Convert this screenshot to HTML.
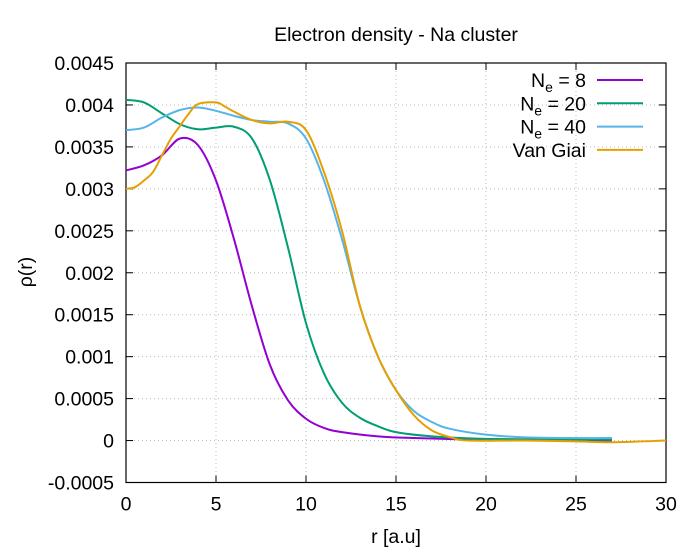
<!DOCTYPE html>
<html><head><meta charset="utf-8"><style>
body{margin:0;background:#fff;font-family:"Liberation Sans",sans-serif}
svg text{font-family:"Liberation Sans",sans-serif;font-size:19.5px;fill:#000}
</style></head><body>
<svg id="c" width="700" height="550"></svg>
<script>
const xTicks=[0,5,10,15,20,25,30];
const yTicks=[-0.0005,0,0.0005,0.001,0.0015,0.002,0.0025,0.003,0.0035,0.004,0.0045];
const yTickLabels=["-0.0005","0","0.0005","0.001","0.0015","0.002","0.0025","0.003","0.0035","0.004","0.0045"];
const r8=[0,1,2,3,4,5,6,7,8,9,10,11,12,14,16,20,27];
const v8=[0.00322,0.00328,0.0034,0.0036,0.00352,0.0031,0.0024,0.0016,0.0009,0.00048,0.00026,0.00015,0.0001,0.00005,0.00003,0.00001,0];
const r20=[0,1,2,3,4,5,6,7,8,9,10,11,12,13,14,15,17,20,27];
const v20=[0.00406,0.00403,0.0039,0.00377,0.00371,0.00373,0.00374,0.0036,0.0031,0.0023,0.0014,0.0008,0.00045,0.00027,0.00017,0.0001,0.00005,0.00002,0.00001];
const r40=[0,1,2,3,4,5,6,7,8,9,10,11,12,13,14,15,16,17,18,20,22,25,27];
const v40=[0.0037,0.00373,0.00385,0.00394,0.00397,0.00393,0.00387,0.00382,0.0038,0.00378,0.0036,0.0031,0.0024,0.0016,0.001,0.0006,0.00035,0.00022,0.00014,0.00007,0.00004,0.00003,0.00003];
const rVG=[0,0.5,1,1.5,2,2.5,3,3.5,4,5,5.5,6,7,8,9,10,11,12,13,14,15,16,17,18,19,22,25,27,30];
const vVG=[0.003,0.00302,0.0031,0.0032,0.0034,0.0036,0.00375,0.0039,0.00401,0.00403,0.00398,0.00392,0.00382,0.00378,0.0038,0.0037,0.0032,0.0025,0.0016,0.001,0.0006,0.0003,0.00012,0.00004,0,0,-0.00001,-0.00002,0];
const L=126,R=666,T=63,B=482.5;
const X=v=>L+(v/30)*(R-L);
const Y=v=>B-(v+0.0005)/0.005*(B-T);
const svg=document.getElementById('c');
const NS='http://www.w3.org/2000/svg';
function mk(t,a,p){const e=document.createElementNS(NS,t);for(const k in a)e.setAttribute(k,a[k]);(p||svg).appendChild(e);return e;}
xTicks.forEach((t,i)=>{
 if(i>0&&i<xTicks.length-1){const g=mk('line',{x1:X(t),x2:X(t),y1:T,y2:B,stroke:'#bbb','stroke-dasharray':'1,3'});
 
 }
 mk('line',{x1:X(t),x2:X(t),y1:B,y2:B-7,stroke:'#000'});mk('line',{x1:X(t),x2:X(t),y1:T,y2:T+7,stroke:'#000'});
 const tx=mk('text',{x:X(t),y:B+28,'text-anchor':'middle'});tx.textContent=t;
 
 
});
yTicks.forEach((t,i)=>{
 if(i>0&&i<yTicks.length-1){const g=mk('line',{x1:L,x2:R,y1:Y(t),y2:Y(t),stroke:'#bbb','stroke-dasharray':'1,3'});
 
 }
 mk('line',{x1:L,x2:L+7,y1:Y(t),y2:Y(t),stroke:'#000'});mk('line',{x1:R,x2:R-7,y1:Y(t),y2:Y(t),stroke:'#000'});
 const tx=mk('text',{x:L-12,y:Y(t)+7,'text-anchor':'end'});tx.textContent=yTickLabels[i];
 
 
});
const fr=mk('rect',{x:L,y:T,width:R-L,height:B-T,fill:'none',stroke:'#000','stroke-width':1.2});


const series=[[r8,v8,'#9400d3','series-ne-8'],[r20,v20,'#009e73','series-ne-20'],[r40,v40,'#56b4e9','series-ne-40'],[rVG,vVG,'#e69f00','series-van-giai']];
function path(xs,ys){const p=xs.map((x,i)=>[X(x),Y(ys[i])]);let d='M'+p[0];for(let i=0;i<p.length-1;i++){const p0=p[i-1]||p[i],p1=p[i],p2=p[i+1],p3=p[i+2]||p2;
 d+=' C'+(p1[0]+(p2[0]-p0[0])/6)+','+(p1[1]+(p2[1]-p0[1])/6)+' '+(p2[0]-(p3[0]-p1[0])/6)+','+(p2[1]-(p3[1]-p1[1])/6)+' '+p2;}return d;}
series.forEach(s=>{const e=mk('path',{d:path(s[0],s[1]),fill:'none',stroke:s[2],'stroke-width':2});
 
 });
const leg=[['N<tspan font-size="14" dy="5">e</tspan><tspan dy="-5"> = 8</tspan>','#9400d3'],['N<tspan font-size="14" dy="5">e</tspan><tspan dy="-5"> = 20</tspan>','#009e73'],['N<tspan font-size="14" dy="5">e</tspan><tspan dy="-5"> = 40</tspan>','#56b4e9'],['Van Giai','#e69f00']];
leg.forEach((l,i)=>{const y=80+i*23.3;
 const g=mk('g',{});
 const t=mk('text',{x:586,y:y+7,'text-anchor':'end'},g);t.innerHTML=l[0];
 mk('line',{x1:597,x2:643,y1:y,y2:y,stroke:l[1],'stroke-width':2},g);});
const ti=mk('text',{x:396,y:41,'text-anchor':'middle'});ti.textContent='Electron density - Na cluster';

const xl=mk('text',{x:396,y:543,'text-anchor':'middle'});xl.textContent='r [a.u]';

const yl=mk('text',{x:0,y:0,'text-anchor':'middle',transform:'translate(32,272) rotate(-90)'});yl.textContent='ρ(r)';

</script></body></html>
